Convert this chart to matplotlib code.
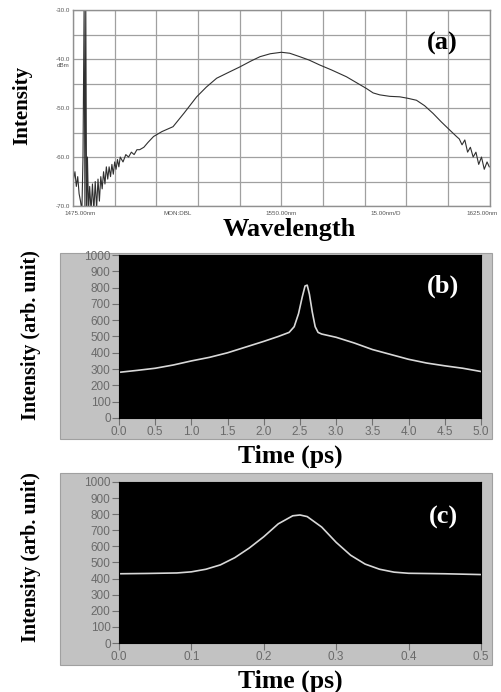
import matplotlib.pyplot as plt
from matplotlib.patches import Rectangle
import numpy as np

# (a) optical spectrum, wavelength in nm, level in dBm
wl_a = [1475.2, 1475.7, 1476.2, 1476.7, 1477.2, 1477.7, 1478.2, 1478.6, 1479.0,
        1479.3, 1479.6, 1479.9, 1480.2, 1480.6, 1481.0, 1481.5, 1482.0, 1482.5,
        1483.0, 1483.5, 1484.0, 1484.5, 1485.0, 1485.5, 1486.0, 1486.5, 1487.0,
        1487.5, 1488.0, 1488.5, 1489.0, 1489.5, 1490.0, 1490.5, 1491.0, 1491.5,
        1492.0, 1493.0, 1494.0, 1495.0, 1496.0, 1497.0, 1498.0, 1499.0, 1500.5,
        1502.0, 1504.0, 1507.0, 1511.0, 1515.0, 1519.5, 1523.0, 1526.7, 1531.0,
        1535.0, 1539.0, 1542.3, 1546.0, 1550.0, 1553.0, 1556.6, 1560.0, 1563.8,
        1568.0, 1573.4, 1577.0, 1580.6, 1583.0, 1585.4, 1589.0, 1592.6, 1595.5,
        1598.6, 1601.5, 1604.6, 1607.5, 1610.6, 1613.0, 1614.0, 1615.0, 1616.0,
        1617.0, 1618.0, 1619.0, 1620.0, 1621.0, 1622.0, 1623.0, 1624.0, 1624.8]
lvl_a = [-64.5, -63.0, -66.0, -64.0, -67.5, -69.0, -71.0, -60.0, -29.0,
         -71.0, -29.0, -71.0, -60.0, -71.0, -66.0, -71.0, -65.5, -71.0,
         -65.0, -70.5, -64.5, -69.0, -64.0, -66.5, -63.0, -65.5, -62.0,
         -64.5, -62.0, -64.0, -61.5, -63.5, -61.0, -62.5, -60.5, -62.0,
         -60.0, -61.0, -59.5, -60.0, -59.0, -59.5, -58.5, -58.5, -58.0,
         -57.0, -55.8, -54.8, -53.8, -51.0, -47.7, -45.7, -43.9, -42.7,
         -41.6, -40.4, -39.5, -38.9, -38.6, -38.8, -39.5, -40.2, -41.2,
         -42.2, -43.6, -44.8, -46.0, -46.9, -47.3, -47.6, -47.7, -48.0,
         -48.4, -49.5, -51.1, -52.8, -54.5, -55.8, -56.3, -57.5, -56.5,
         -59.0, -58.0, -60.0, -59.0, -61.5, -60.0, -62.5, -61.0, -62.0]

# (b) pulse trace, time in ps
t_b = [0.0, 0.25, 0.5, 0.75, 1.0, 1.25, 1.5, 1.75, 2.0, 2.2, 2.35, 2.42, 2.48,
       2.53, 2.57, 2.6, 2.63, 2.67, 2.71, 2.75, 2.8, 3.0, 3.25, 3.5, 3.75,
       4.0, 4.25, 4.5, 4.75, 5.0]
i_b = [280, 292, 305, 325, 350, 372, 400, 435, 470, 500, 525, 560, 640,
       740, 810, 815, 760, 650, 560, 525, 515, 495, 460, 420, 390,
       360, 337, 320, 305, 285]

# (c) pulse trace, time in ps
t_c = [0.0, 0.04, 0.08, 0.1, 0.12, 0.14, 0.16, 0.18, 0.2, 0.22, 0.24, 0.25,
       0.26, 0.28, 0.3, 0.32, 0.34, 0.36, 0.38, 0.4, 0.45, 0.5]
i_c = [430, 432, 435, 442, 458, 485, 530, 590, 660, 740, 790, 795,
       785, 720, 625, 545, 490, 458, 440, 433, 430, 425]

yticks_bc = [0, 100, 200, 300, 400, 500, 600, 700, 800, 900, 1000]
xticks_b = [0.0, 0.5, 1.0, 1.5, 2.0, 2.5, 3.0, 3.5, 4.0, 4.5, 5.0]
xticks_c = [0.0, 0.1, 0.2, 0.3, 0.4, 0.5]
osa_ylabels = ['-30.0', '-40.0', '-50.0', '-60.0', '-70.0']
osa_xlabels = ['1475.00nm', 'MON:DBL', '1550.00nm', '15.00nm/D', '1625.00nm']

SERIF = 'Liberation Serif'
SANS = 'Liberation Sans'

fig = plt.figure(figsize=(5.01, 6.92), dpi=100)

# ---- (a) ----
ax = fig.add_axes([0.1457, 0.7023, 0.832, 0.283])
ax.plot(wl_a, lvl_a, color='#303030', lw=0.8)
ax.set_xlim(1475, 1625)
ax.set_ylim(-70, -30)
ax.set_xticks(np.linspace(1475, 1625, 11))
ax.set_yticks(np.linspace(-70, -30, 9))
ax.set_xticklabels([])
ax.set_yticklabels([])
ax.tick_params(length=0)
ax.grid(True, color='#a0a0a0', lw=0.9)
for s in ax.spines.values():
    s.set_color('#909090')
    s.set_linewidth(1.0)
for i, lab in enumerate(osa_ylabels):
    ax.text(-0.008, 1 - i * 0.25, lab, transform=ax.transAxes, ha='right',
            va='center', fontsize=4.5, color='#555555', family=SANS)
ax.text(-0.008, 0.715, 'dBm', transform=ax.transAxes, ha='right', va='center',
        fontsize=4.5, color='#555555', family=SANS)
for i, lab in enumerate(osa_xlabels):
    ha = 'left' if i == 0 else ('right' if i == 4 else 'center')
    xpos = [-0.02, 0.25, 0.5, 0.75, 1.02][i]
    ax.text(xpos, -0.025, lab, transform=ax.transAxes, ha=ha, va='top',
            fontsize=4.5, color='#555555', family=SANS)
ax.text(0.885, 0.83, '(a)', transform=ax.transAxes, ha='center', va='center',
        fontsize=19, fontweight='bold', family=SERIF, color='black')
fig.text(0.578, 0.668, 'Wavelength', ha='center', va='center', fontsize=19,
         fontweight='bold', family=SERIF)
fig.text(0.045, 0.848, 'Intensity', ha='center', va='center', rotation=90,
         fontsize=15, fontweight='bold', family=SERIF)


def pulse_panel(box, frame, t, inten, xticks, xfmt, tag, tag_y, xlab_y, ylab_y):
    fig.add_artist(Rectangle((frame[0], frame[1]), frame[2], frame[3],
                             transform=fig.transFigure, facecolor='#c2c2c2',
                             edgecolor='#a0a0a0', lw=0.8, zorder=-5))
    a = fig.add_axes(box)
    a.set_facecolor('black')
    a.plot(t, inten, color='#d8d8d8', lw=1.2)
    a.set_xlim(xticks[0], xticks[-1])
    a.set_ylim(0, 1000)
    a.set_yticks(yticks_bc)
    a.set_xticks(xticks)
    a.set_xticklabels([xfmt.format(v) for v in xticks])
    a.tick_params(direction='out', length=5, width=0.8, color='#707070',
                  labelcolor='#6a6a6a', labelsize=8.5, pad=1)
    for lab in a.get_xticklabels() + a.get_yticklabels():
        lab.set_family(SANS)
    for s in a.spines.values():
        s.set_color('black')
    a.text(0.895, tag_y, tag, transform=a.transAxes, ha='center', va='center',
           fontsize=19, fontweight='bold', family=SERIF, color='white')
    fig.text(0.58, xlab_y, 'Time (ps)', ha='center', va='center', fontsize=18.5,
             fontweight='bold', family=SERIF)
    fig.text(0.062, ylab_y, 'Intensity (arb. unit)', ha='center', va='center',
             rotation=90, fontsize=14.5, fontweight='bold', family=SERIF)
    return a


pulse_panel([0.2375, 0.3960, 0.7225, 0.2355], [0.1198, 0.3656, 0.862, 0.2688],
            t_b, i_b, xticks_b, '{:.1f}', '(b)', 0.81, 0.341, 0.5155)
pulse_panel([0.2375, 0.0708, 0.7225, 0.2327], [0.1198, 0.0390, 0.862, 0.2775],
            t_c, i_c, xticks_c, '{:.1f}', '(c)', 0.78, 0.016, 0.195)

fig.savefig('out.png', dpi=100)
